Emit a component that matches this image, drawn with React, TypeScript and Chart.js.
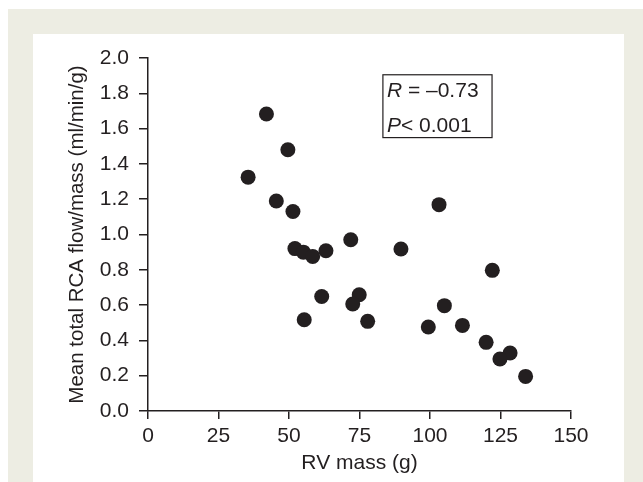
import React, { useEffect, useRef } from "react";
import { Chart, registerables } from "chart.js";

Chart.register(...registerables);

const rvMass = [35.5, 42.0, 45.5, 49.6, 51.4, 52.1, 55.1, 58.4, 63.1, 71.9, 61.6, 74.9, 72.6, 55.4, 77.9, 103.2, 89.7, 122.1, 105.1, 99.4, 111.5, 119.9, 128.4, 124.8, 133.9];
const rcaFlow = [1.325, 1.683, 1.19, 1.48, 1.13, 0.92, 0.9, 0.876, 0.908, 0.97, 0.649, 0.659, 0.606, 0.517, 0.508, 1.169, 0.918, 0.797, 0.597, 0.476, 0.485, 0.389, 0.329, 0.295, 0.196];

const xTicks = [0, 25, 50, 75, 100, 125, 150];
const yTicks = [0, 0.2, 0.4, 0.6, 0.8, 1.0, 1.2, 1.4, 1.6, 1.8, 2.0];

const xTitle = "RV mass (g)";
const yTitle = "Mean total RCA flow/mass (ml/min/g)";
const statR = "\u20130.73";
const statP = "0.001";

const INK = "#231f20";
const FONT = "'Liberation Sans', Arial, Helvetica, sans-serif";

const statsBoxPlugin = {
  id: "statsBox",
  afterDraw(chart: any) {
    const { ctx, scales } = chart;
    const xs = scales.x;
    const ys = scales.y;
    const x0 = xs.getPixelForValue(83.3);
    const x1 = xs.getPixelForValue(122);
    const y0 = ys.getPixelForValue(1.905);
    const y1 = ys.getPixelForValue(1.549);
    ctx.save();
    ctx.strokeStyle = INK;
    ctx.lineWidth = 1.2;
    ctx.strokeRect(x0, y0, x1 - x0, y1 - y0);
    ctx.fillStyle = INK;
    ctx.textBaseline = "alphabetic";
    ctx.textAlign = "left";
    const tx = x0 + 4;
    const b1 = y0 + 22.5;
    const b2 = y0 + 57;
    ctx.font = `italic 21px ${FONT}`;
    ctx.fillText("R", tx, b1);
    let w = ctx.measureText("R").width;
    ctx.font = `21px ${FONT}`;
    ctx.fillText(" = " + statR, tx + w, b1);
    ctx.font = `italic 21px ${FONT}`;
    ctx.fillText("P", tx, b2);
    w = ctx.measureText("P").width;
    ctx.font = `21px ${FONT}`;
    ctx.fillText("< " + statP, tx + w, b2);
    ctx.restore();
  },
};

export default function App() {
  const ref = useRef<HTMLCanvasElement | null>(null);

  useEffect(() => {
    if (!ref.current) return;
    const chart = new Chart(ref.current, {
      type: "scatter",
      data: {
        datasets: [
          {
            data: rvMass.map((x, i) => ({ x, y: rcaFlow[i] })),
            backgroundColor: INK,
            borderWidth: 0,
            pointRadius: 7.5,
            pointHoverRadius: 7.5,
          },
        ],
      },
      options: {
        animation: false,
        responsive: false,
        maintainAspectRatio: false,
        events: [],
        layout: { padding: { top: 24, right: 53, left: 0, bottom: 0 } },
        plugins: { legend: { display: false }, tooltip: { enabled: false } },
        scales: {
          x: {
            type: "linear",
            min: 0,
            max: 150,
            afterBuildTicks: (s: any) => {
              s.ticks = xTicks.map((v) => ({ value: v }));
            },
            afterFit: (s: any) => {
              s.height = 71;
            },
            grid: {
              drawOnChartArea: false,
              drawTicks: true,
              tickLength: 8,
              color: INK,
              lineWidth: 1.5,
            },
            border: { display: true, color: INK, width: 1.5 },
            ticks: {
              color: INK,
              font: { family: FONT, size: 21 },
              padding: 5,
              maxRotation: 0,
              autoSkip: false,
              callback: (v: any) => String(v),
            },
            title: {
              display: true,
              text: xTitle,
              color: INK,
              font: { family: FONT, size: 21 },
              padding: { top: 0, bottom: 6 },
            },
          },
          y: {
            type: "linear",
            min: 0,
            max: 2,
            afterBuildTicks: (s: any) => {
              s.ticks = yTicks.map((v) => ({ value: v }));
            },
            afterFit: (s: any) => {
              s.width = 115;
            },
            grid: {
              drawOnChartArea: false,
              drawTicks: true,
              tickLength: 9,
              color: INK,
              lineWidth: 1.5,
            },
            border: { display: true, color: INK, width: 1.5 },
            ticks: {
              color: INK,
              font: { family: FONT, size: 21 },
              padding: 10,
              autoSkip: false,
              callback: (v: any) => Number(v).toFixed(1),
            },
            title: {
              display: true,
              text: yTitle,
              color: INK,
              font: { family: FONT, size: 20.5 },
              padding: { top: 32, bottom: 0 },
            },
          },
        },
      },
      plugins: [statsBoxPlugin],
    });
    return () => chart.destroy();
  }, []);

  return (
    <div
      style={{
        position: "absolute",
        left: 8,
        top: 9,
        width: 635,
        height: 473,
        background: "#edede3",
      }}
    >
      <div
        style={{
          position: "absolute",
          left: 25,
          top: 25,
          width: 591,
          height: 448,
          background: "#ffffff",
        }}
      >
        <canvas ref={ref} width={591} height={448} style={{ display: "block" }} />
      </div>
    </div>
  );
}
